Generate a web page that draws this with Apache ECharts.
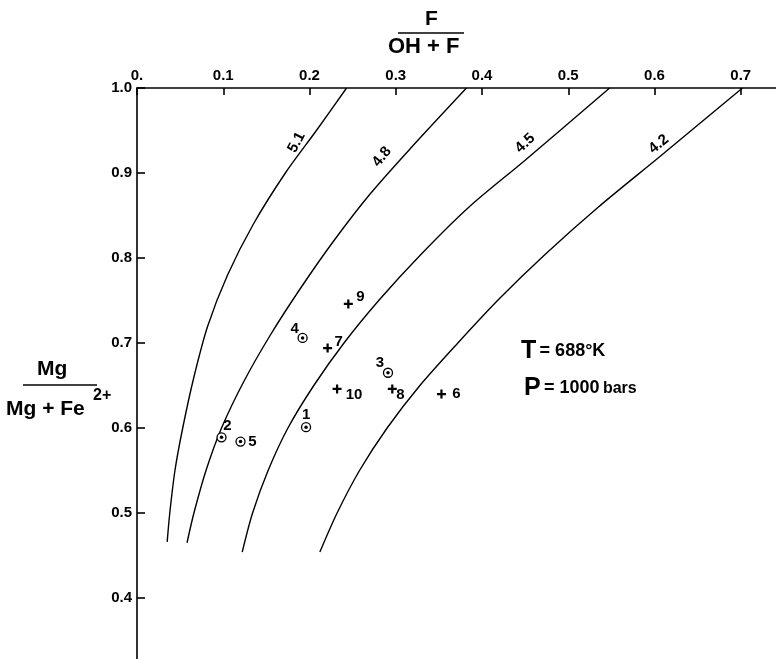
<!DOCTYPE html>
<html>
<head>
<meta charset="utf-8">
<title>F/(OH+F) vs Mg/(Mg+Fe2+)</title>
<script src="https://cdn.jsdelivr.net/npm/echarts@6/dist/echarts.min.js"></script>
<style>
  html, body { margin: 0; padding: 0; background: #fff; }
  #main { width: 776px; height: 659px; }
</style>
</head>
<body>
<div id="main"></div>
<script>
// isopleth curves, [F/(OH+F), Mg/(Mg+Fe)]
var curve51 = [[0.035,0.466],[0.038,0.500],[0.044,0.550],[0.053,0.600],[0.066,0.660],[0.082,0.720],[0.105,0.780],[0.135,0.840],[0.172,0.900],[0.208,0.950],[0.243,1.0]];
var curve48 = [[0.058,0.465],[0.066,0.500],[0.080,0.550],[0.098,0.600],[0.124,0.655],[0.155,0.710],[0.190,0.765],[0.228,0.820],[0.270,0.875],[0.318,0.930],[0.382,1.0]];
var curve45 = [[0.122,0.454],[0.134,0.500],[0.152,0.550],[0.175,0.600],[0.205,0.650],[0.240,0.700],[0.282,0.752],[0.330,0.805],[0.385,0.860],[0.450,0.915],[0.548,1.0]];
var curve42 = [[0.212,0.454],[0.232,0.500],[0.258,0.550],[0.290,0.600],[0.328,0.650],[0.372,0.700],[0.420,0.752],[0.474,0.805],[0.535,0.860],[0.607,0.920],[0.702,1.0]];
var curveNames = ['5.1', '4.8', '4.5', '4.2'];
var curveLabelPos = [[0.185,0.936],[0.284,0.919],[0.450,0.935],[0.605,0.934]];

// samples: circles and crosses
var circleNames = ['1', '2', '3', '4', '5'];
var circleValues = [[0.196,0.601],[0.098,0.589],[0.291,0.665],[0.192,0.706],[0.120,0.584]];
var crossNames = ['6', '7', '8', '9', '10'];
var crossValues = [[0.353,0.640],[0.221,0.694],[0.296,0.646],[0.245,0.746],[0.232,0.646]];

var xTicks = [0, 0.1, 0.2, 0.3, 0.4, 0.5, 0.6, 0.7];
var yTicks = [0.4, 0.5, 0.6, 0.7, 0.8, 0.9, 1.0];

// label layout (pixels) and rotations
var curveLabelRot = [62, 51, 43, 39];
var circleOffsets = [[0,-12],[6,-11],[-8,-10],[-8,-9],[12,0]];
var crossOffsets = [[15,0],[11,-6],[8,6],[12,-7],[17,6]];

var myChart = echarts.init(document.getElementById('main'));
var font = 'Liberation Sans';

var series = [];
[curve51, curve48, curve45, curve42].forEach(function (c, i) {
  series.push({
    name: curveNames[i],
    type: 'line',
    data: c,
    smooth: 0.3,
    symbol: 'none',
    lineStyle: { color: '#000', width: 1.4 },
    z: 2
  });
});

series.push({
  type: 'scatter',
  symbolSize: 0,
  itemStyle: { opacity: 1 },
  data: curveLabelPos.map(function (p, i) {
    return { value: p, name: curveNames[i], label: { rotate: curveLabelRot[i] } };
  }),
  label: {
    show: true, position: 'inside', formatter: '{b}',
    color: '#000', fontFamily: font, fontSize: 15, fontWeight: 'bold'
  },
  z: 3
});

series.push({
  type: 'scatter',
  symbol: 'circle',
  symbolSize: 9,
  itemStyle: { color: '#fff', borderColor: '#000', borderWidth: 1.3, opacity: 1 },
  data: circleValues.map(function (p, i) {
    return { value: p, name: circleNames[i], label: { offset: circleOffsets[i] } };
  }),
  label: {
    show: true, position: 'inside', formatter: '{b}',
    color: '#000', fontFamily: font, fontSize: 15, fontWeight: 'bold'
  },
  z: 4
});
series.push({
  type: 'scatter',
  symbol: 'circle',
  symbolSize: 3.5,
  itemStyle: { color: '#000', opacity: 1 },
  data: circleValues,
  z: 5
});
series.push({
  type: 'scatter',
  symbol: 'path://M3,0H5V3H8V5H5V8H3V5H0V3H3Z',
  symbolSize: 9,
  itemStyle: { color: '#000', opacity: 1 },
  data: crossValues.map(function (p, i) {
    return { value: p, name: crossNames[i], label: { offset: crossOffsets[i] } };
  }),
  label: {
    show: true, position: 'inside', formatter: '{b}',
    color: '#000', fontFamily: font, fontSize: 15, fontWeight: 'bold'
  },
  z: 4
});

var option = {
  animation: false,
  backgroundColor: '#fff',
  grid: { left: 137, top: 88, width: 690, height: 595, outerBoundsMode: 'none', containLabel: false },
  xAxis: {
    type: 'value',
    position: 'top',
    min: 0, max: 0.8, interval: 0.1,
    splitLine: { show: false },
    axisLine: { show: true, onZero: false, lineStyle: { color: '#000', width: 1.6 } },
    axisTick: { show: true, inside: true, length: 7, lineStyle: { color: '#000', width: 1.6 } },
    axisLabel: {
      color: '#000', fontFamily: font, fontSize: 15, fontWeight: 'bold', margin: 5,
      formatter: function (v) {
        if (xTicks.indexOf(Math.round(v * 10) / 10) < 0) return '';
        return v === 0 ? '0.' : v.toFixed(1);
      }
    }
  },
  yAxis: {
    type: 'value',
    min: 0.3, max: 1.0, interval: 0.1,
    splitLine: { show: false },
    axisLine: { show: true, onZero: false, lineStyle: { color: '#000', width: 1.6 } },
    axisTick: { show: true, inside: true, length: 8, lineStyle: { color: '#000', width: 1.6 } },
    axisLabel: {
      color: '#000', fontFamily: font, fontSize: 15, fontWeight: 'bold', margin: 5,
      formatter: function (v) {
        var r = Math.round(v * 10) / 10;
        return yTicks.indexOf(r) < 0 ? '' : r.toFixed(1);
      }
    }
  },
  graphic: [
    { type: 'text', left: 425, top: 9, style: { text: 'F', fontFamily: font, fontSize: 21, fontWeight: 'bold', fill: '#000' } },
    { type: 'line', shape: { x1: 398, y1: 33, x2: 464, y2: 33 }, style: { stroke: '#000', lineWidth: 1.6 } },
    { type: 'text', left: 388, top: 36, style: { text: 'OH + F', fontFamily: font, fontSize: 22, fontWeight: 'bold', fill: '#000' } },

    { type: 'text', left: 37, top: 359, style: { text: 'Mg', fontFamily: font, fontSize: 21, fontWeight: 'bold', fill: '#000' } },
    { type: 'line', shape: { x1: 23, y1: 385, x2: 97, y2: 385 }, style: { stroke: '#000', lineWidth: 1.6 } },
    { type: 'text', left: 6, top: 399, style: { text: 'Mg + Fe', fontFamily: font, fontSize: 21, fontWeight: 'bold', fill: '#000' } },
    { type: 'text', left: 93, top: 388, style: { text: '2+', fontFamily: font, fontSize: 16, fontWeight: 'bold', fill: '#000' } },

    { type: 'text', left: 521, top: 339, style: {
      text: '{b|T} {s|= 688°K}', fontFamily: font, fill: '#000',
      rich: { b: { fontSize: 25, fontWeight: 'bold', fontFamily: font }, s: { fontSize: 18, fontWeight: 'bold', fontFamily: font } }
    } },
    { type: 'text', left: 524, top: 376, style: {
      text: '{b|P} {s|= 1000} {t|bars}', fontFamily: font, fill: '#000',
      rich: { b: { fontSize: 25, fontWeight: 'bold', fontFamily: font }, s: { fontSize: 18, fontWeight: 'bold', fontFamily: font }, t: { fontSize: 16, fontWeight: 'bold', fontFamily: font } }
    } }
  ],
  series: series
};
myChart.setOption(option);
</script>
</body>
</html>
